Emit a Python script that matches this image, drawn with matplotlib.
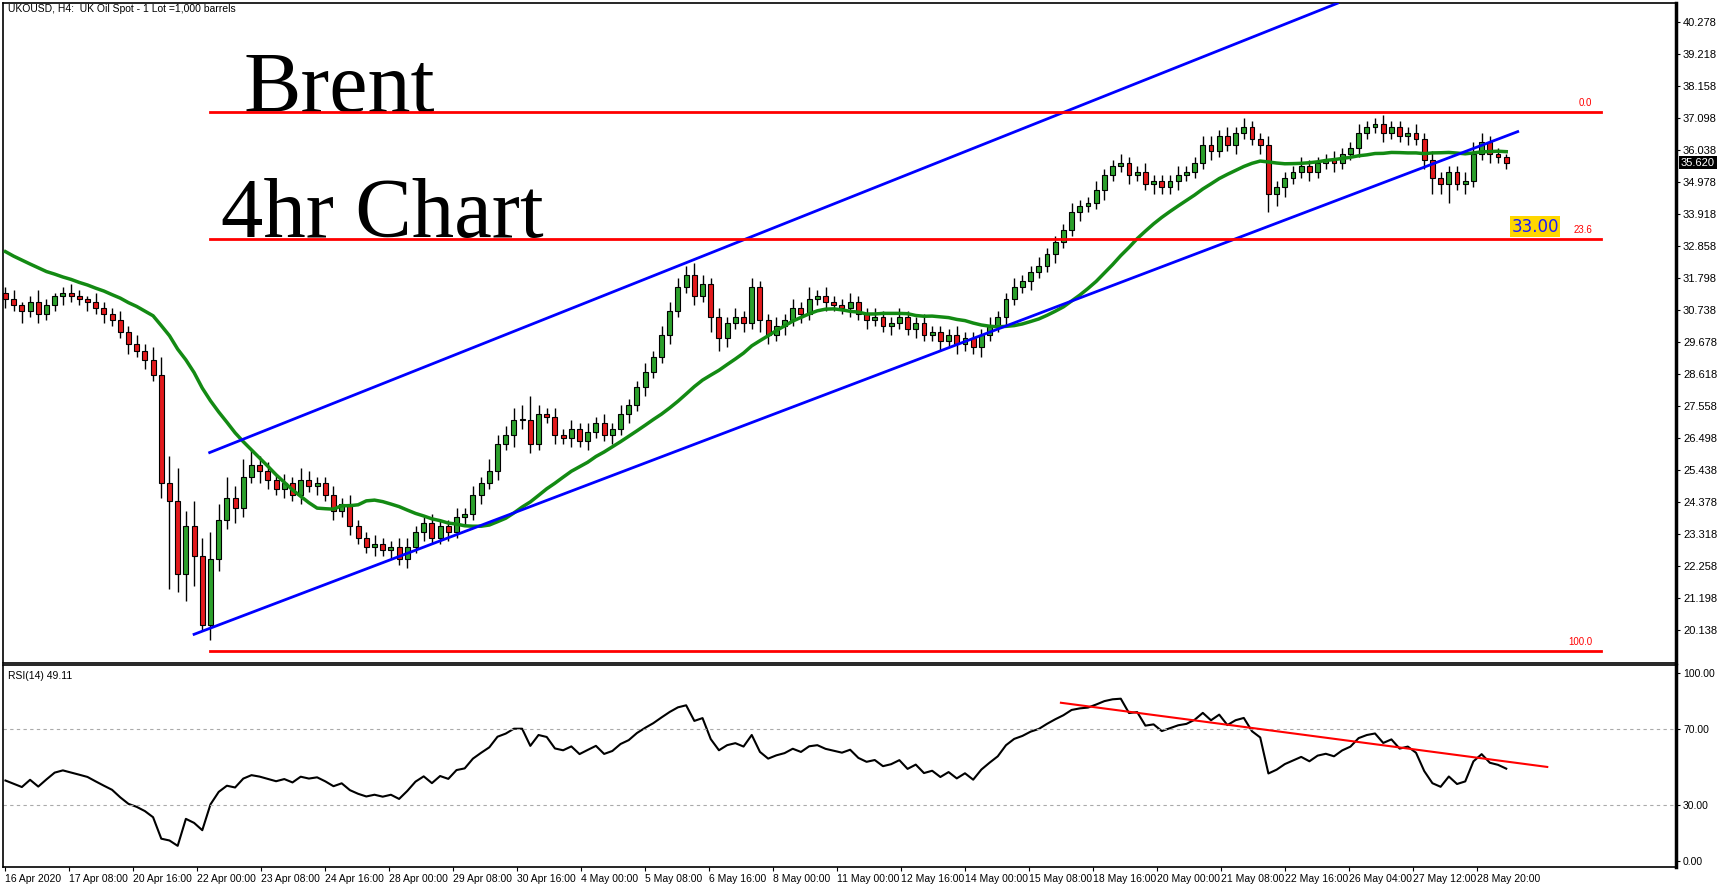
import numpy as np
import pandas as pd
import matplotlib
matplotlib.use("Agg")
import matplotlib.pyplot as plt

closes = [31.1,30.9,30.7,31.0,30.6,30.9,31.2,31.3,31.2,31.1,31.0,30.8,30.6,30.4,30.0,29.6,
          29.4,29.1,28.6,25.0,24.4,22.0,23.6,22.6,20.3,22.5,23.8,24.5,24.2,25.2,25.6,25.4,
          25.1,24.8,25.0,24.6,25.1,24.9,25.0,24.6,24.1,24.3,23.6,23.2,22.9,23.0,22.8,22.9,
          22.5,22.9,23.4,23.7,23.2,23.6,23.4,23.9,24.0,24.6,25.0,25.4,26.3,26.6,27.1,27.1,
          26.3,27.3,27.2,26.6,26.5,26.8,26.4,26.7,27.0,26.6,26.8,27.3,27.6,28.2,28.7,29.2,
          29.9,30.7,31.5,31.9,31.2,31.6,30.5,29.8,30.3,30.5,30.3,31.5,30.4,29.9,30.2,30.4,
          30.8,30.6,31.1,31.2,31.0,30.9,30.8,31.0,30.6,30.4,30.5,30.2,30.3,30.5,30.1,30.3,
          29.9,30.0,29.7,29.9,29.6,29.8,29.5,29.9,30.2,30.5,31.1,31.5,31.7,32.0,32.2,32.6,
          33.0,33.4,34.0,34.2,34.3,34.7,35.2,35.5,35.6,35.2,35.3,34.9,35.0,34.8,35.0,35.2,
          35.3,35.6,36.2,36.0,36.5,36.2,36.6,36.8,36.4,36.2,34.6,34.8,35.1,35.3,35.5,35.3,
          35.6,35.7,35.6,35.9,36.1,36.6,36.8,36.9,36.6,36.8,36.5,36.6,36.4,35.7,35.1,34.9,
          35.3,34.9,35.0,35.9,36.3,35.9,35.8,35.62]
first_open = 31.3
up_wick = [0.2,0.3,0.1,0.2,0.4,0.2,0.1,0.2,0.3,0.2,0.1,0.3,0.2,0.2,0.3,0.2,
           0.3,0.2,0.4,0.6,0.9,1.1,0.5,0.8,0.6,0.9,0.5,0.7,0.4,0.6,0.5,0.3,
           0.3,0.2,0.3,0.2,0.4,0.3,0.2,0.2,0.3,0.2,0.3,0.2,0.2,0.3,0.2,0.2,
           0.3,0.3,0.2,0.2,0.3,0.2,0.2,0.3,0.2,0.3,0.2,0.4,0.3,0.3,0.4,0.5,
           0.8,0.3,0.2,0.3,0.2,0.3,0.2,0.3,0.2,0.3,0.2,0.3,0.2,0.2,0.3,0.2,
           0.3,0.3,0.3,0.3,0.4,0.3,0.2,0.3,0.2,0.3,0.2,0.3,0.2,0.2,0.3,0.2,
           0.3,0.2,0.4,0.2,0.3,0.2,0.2,0.3,0.2,0.2,0.3,0.2,0.2,0.3,0.2,0.2,
           0.3,0.2,0.2,0.2,0.3,0.2,0.2,0.2,0.3,0.2,0.2,0.3,0.2,0.2,0.3,0.2,
           0.2,0.2,0.3,0.2,0.2,0.3,0.2,0.2,0.3,0.2,0.2,0.3,0.2,0.2,0.2,0.3,
           0.2,0.2,0.3,0.3,0.2,0.3,0.2,0.3,0.2,0.2,0.3,0.2,0.2,0.2,0.3,0.2,
           0.2,0.2,0.3,0.2,0.2,0.3,0.2,0.2,0.3,0.2,0.2,0.2,0.3,0.2,0.3,0.2,
           0.2,0.2,0.3,0.4,0.3,0.2,0.2,0.1]
dn_wick = [0.3,0.2,0.4,0.2,0.3,0.2,0.2,0.3,0.2,0.2,0.3,0.2,0.3,0.2,0.2,0.3,
           0.2,0.3,0.2,0.5,2.9,0.6,0.9,1.0,0.2,0.5,0.4,0.3,0.5,0.3,0.2,0.4,
           0.3,0.2,0.3,0.2,0.3,0.2,0.3,0.2,0.3,0.2,0.3,0.2,0.2,0.3,0.2,0.3,
           0.2,0.3,0.2,0.3,0.2,0.2,0.3,0.2,0.3,0.2,0.3,0.2,0.3,0.2,0.4,0.3,
           0.3,0.2,0.2,0.3,0.2,0.3,0.2,0.3,0.2,0.2,0.3,0.2,0.3,0.2,0.3,0.2,
           0.2,0.3,0.2,0.2,0.3,0.2,0.5,0.4,0.3,0.2,0.3,0.2,0.4,0.3,0.2,0.3,
           0.2,0.3,0.2,0.2,0.3,0.2,0.2,0.3,0.2,0.3,0.2,0.2,0.3,0.2,0.2,0.3,
           0.2,0.2,0.3,0.2,0.3,0.2,0.2,0.3,0.2,0.2,0.3,0.2,0.2,0.3,0.2,0.2,
           0.3,0.2,0.2,0.3,0.2,0.2,0.3,0.2,0.2,0.3,0.2,0.2,0.3,0.2,0.2,0.3,
           0.2,0.2,0.2,0.3,0.2,0.2,0.3,0.2,0.2,0.3,0.6,0.4,0.3,0.2,0.2,0.3,
           0.2,0.2,0.3,0.2,0.2,0.3,0.2,0.2,0.3,0.2,0.2,0.3,0.2,0.3,0.5,0.3,
           0.6,0.2,0.3,0.2,0.2,0.3,0.2,0.2]
pre_closes = [33.6,33.9,33.3,33.6,33.1,33.4,32.9,33.2,32.8,33.1,32.7,32.9,32.5,32.8,32.3,32.6,
              31.9,32.2,31.7,31.5]
date_labels = ["16 Apr 2020","17 Apr 08:00","20 Apr 16:00","22 Apr 00:00","23 Apr 08:00","24 Apr 16:00",
               "28 Apr 00:00","29 Apr 08:00","30 Apr 16:00","4 May 00:00","5 May 08:00","6 May 16:00",
               "8 May 00:00","11 May 00:00","12 May 16:00","14 May 00:00","15 May 08:00","18 May 16:00",
               "20 May 00:00","21 May 08:00","22 May 16:00","26 May 04:00","27 May 12:00","28 May 20:00"]
price_ticks = [40.278,39.218,38.158,37.098,36.038,34.978,33.918,32.858,31.798,30.738,29.678,28.618,
               27.558,26.498,25.438,24.378,23.318,22.258,21.198,20.138]
fib_levels = [(37.30,"0.0"),(33.09,"23.6"),(19.45,"100.0")]
lower_chan = [(23.0,20.0),(184.4,36.65)]
upper_chan = [(24.9,26.02),(162.4,40.9)]
rsi_trend = [(128.7,84.0),(188.0,50.0)]
rsi_last = 49.11
last_price = 35.620

n = len(closes)
idx = np.arange(n)
opens = [first_open] + closes[:-1]
highs = [max(o, c) + u for o, c, u in zip(opens, closes, up_wick)]
lows = [min(o, c) - d for o, c, d in zip(opens, closes, dn_wick)]

allc = pd.Series(pre_closes + closes)
ma = allc.rolling(20).mean().iloc[len(pre_closes):].values
delta = allc.diff()
gain = delta.clip(lower=0).ewm(alpha=1/14, adjust=False).mean()
loss = (-delta.clip(upper=0)).ewm(alpha=1/14, adjust=False).mean()
rsi = (100 - 100 / (1 + gain / loss)).iloc[len(pre_closes):].values

SF = "Liberation Sans"
W, H = 1724, 888
fig = plt.figure(figsize=(W/100, H/100), dpi=100)
L, R = 3/W, 1676/W
ax = fig.add_axes([L, (H-663)/H, R-L, 660/H])
ax2 = fig.add_axes([L, (H-867)/H, R-L, 202/H])
xl = (-0.3, 203.7)

for i in range(n):
    o, c = opens[i], closes[i]
    col = "#2ca02c" if c >= o else "#e31a1c"
    ax.vlines(i, lows[i], highs[i], color="black", lw=1, zorder=2)
    ax.bar(i, max(abs(c-o), 0.04), bottom=min(o, c), width=0.6, color=col, edgecolor="black", lw=0.8, zorder=3)
ax.plot(idx, ma, color="#138a13", lw=2.5, zorder=4)
for (x0, y0), (x1, y1) in [lower_chan, upper_chan]:
    ax.plot([x0, x1], [y0, y1], color="#0000ff", lw=2, zorder=5)
for lvl, lab in fib_levels:
    ax.plot([24.9, 194.5], [lvl, lvl], color="red", lw=2, zorder=5)
    ax.text(193.5, lvl + 0.12, lab, color="red", fontsize=7, family=SF, ha="right", va="bottom")
ax.text(186.5, 33.2, "33.00", fontsize=12, color="#1a1aff", ha="center", va="bottom",
        bbox=dict(boxstyle="square,pad=0.1", fc="#ffd700", ec="none"), zorder=6)
ax.text(29.0, 37.3, "Brent", fontfamily="Liberation Serif", fontsize=62, va="baseline")
ax.text(26.3, 33.15, "4hr Chart", fontfamily="Liberation Serif", fontsize=61, va="baseline")
ax.text(0.003, 0.998, "UKOUSD, H4:  UK Oil Spot - 1 Lot =1,000 barrels", transform=ax.transAxes,
        fontsize=7.5, family=SF, va="top", ha="left")
ax.set_xlim(*xl)
ax.set_ylim(19.05, 40.91)
ax.yaxis.tick_right()
ax.set_yticks(price_ticks)
ax.set_yticklabels([f"{t:.3f}" for t in price_ticks], fontsize=8, family=SF)
ax.set_xticks([])
ax.text(1.003, (last_price-19.05)/(40.91-19.05), f"{last_price:.3f}", transform=ax.transAxes,
        fontsize=8, family=SF, color="white", va="center", ha="left",
        bbox=dict(boxstyle="square,pad=0.15", fc="black", ec="none"))

ax2.plot(idx, rsi, color="black", lw=1.5)
ax2.axhline(70, color="#aaaaaa", ls=(0, (3, 3)), lw=0.8)
ax2.axhline(30, color="#aaaaaa", ls=(0, (3, 3)), lw=0.8)
ax2.plot([rsi_trend[0][0], rsi_trend[1][0]], [rsi_trend[0][1], rsi_trend[1][1]], color="red", lw=1.5)
ax2.set_xlim(*xl)
ax2.set_ylim(-3, 104)
ax2.yaxis.tick_right()
ax2.set_yticks([0, 30, 70, 100])
ax2.set_yticklabels(["0.00", "30.00", "70.00", "100.00"], fontsize=7.5, family=SF)
ax2.set_xticks(np.arange(len(date_labels)) * 7.8)
ax2.set_xticklabels(date_labels, fontsize=7.5, family=SF, ha="left")
ax2.text(0.003, 0.97, f"RSI(14) {rsi_last:.2f}", transform=ax2.transAxes, fontsize=7.5, family=SF, va="top")
for a in (ax, ax2):
    for s in a.spines.values():
        s.set_linewidth(1.2)
    a.spines["right"].set_linewidth(2.5)
    a.tick_params(length=3, pad=2)
fig.savefig("out.png", dpi=100)
